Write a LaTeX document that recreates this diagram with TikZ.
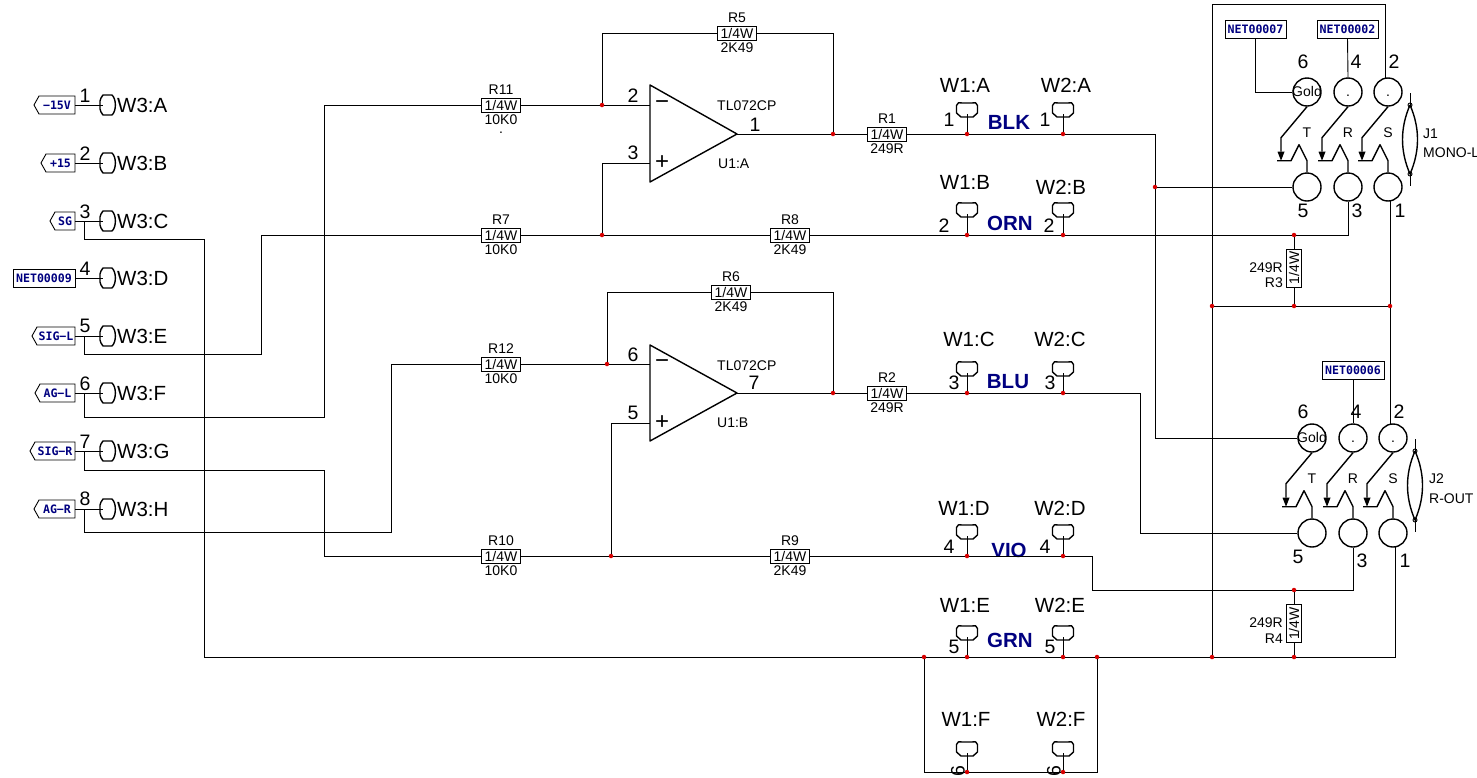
\documentclass[tikz,border=0pt]{standalone}
\usepackage{fontspec}
\setmainfont{Liberation Sans}
\newfontfamily\netfont{DejaVu Sans Mono}[BoldFont={DejaVu Sans Mono Bold}]
\definecolor{navy}{RGB}{0,0,128}
\definecolor{junc}{RGB}{215,0,0}
\tikzset{
  wire/.style={line width=0.9pt,black},
  heavy/.style={line width=1.4pt,black,line join=round},
  res/.style={draw,line width=0.9pt,fill=white,rectangle,minimum width=39pt,minimum height=14pt,inner sep=0pt,font=\fontsize{14}{14}\selectfont},
  vres/.style={draw,line width=0.9pt,fill=white,rectangle,minimum width=38pt,minimum height=15pt,inner sep=0pt,rotate=90,font=\fontsize{14}{14}\selectfont},
  small/.style={inner sep=0pt,font=\fontsize{14}{14}\selectfont},
  big/.style={inner sep=0pt,font=\fontsize{20.5}{20.5}\selectfont},
  pinno/.style={inner sep=0pt,font=\fontsize{19.5}{19.5}\selectfont},
  colr/.style={inner sep=0pt,text=navy,font=\fontsize{20.5}{20.5}\selectfont\bfseries},
  net/.style={draw,line width=0.9pt,rectangle,inner sep=0pt,minimum height=18pt,text=navy,font=\fontsize{11.6}{12}\netfont\bfseries},
  tagt/.style={inner sep=0pt,text=navy,font=\fontsize{11.6}{12}\netfont\bfseries},
  jn/.style={circle,fill=junc,minimum size=4.5pt,inner sep=0pt},
  hole/.style={circle,draw,line width=1.4pt,minimum size=28pt,inner sep=0pt,font=\fontsize{14}{14}\selectfont},
  sgn/.style={inner sep=0pt,font=\fontsize{24}{24}\selectfont},
}
% horizontal mating connector, with named wire point
\newcommand{\cnh}[5]{% name x y label pin
  \coordinate (#1) at (#2+3,#3);
  \draw[heavy] (#2+3,#3-10) -- (#2+1,#3-7) -- (#2,#3-4) -- (#2,#3+4) -- (#2+1,#3+7) -- (#2+3,#3+10) -- (#2+12,#3+10) .. controls (#2+16.5,#3+6) and (#2+16.5,#3-6) .. (#2+12,#3-10) -- cycle;
  \node[big,anchor=west] (#1t) at (#2+17,#3) {#4};
}
% vertical mating connector: name x top label-x label-y label
\newcommand{\cnv}[6]{%
  \coordinate (#1) at (#2,#3+11);
  \draw[heavy] (#2-10.5,#3+2.5) .. controls (#2-9,#3-0.5) .. (#2-5,#3) -- (#2+5,#3) .. controls (#2+9,#3-0.5) .. (#2+10.5,#3+2.5) -- (#2+10.5,#3+10) -- (#2+6,#3+14) -- (#2-6,#3+14) -- (#2-10.5,#3+10) -- cycle;
  \node[big] (#1t) at (#4,#5) {#6};
}
% tag pointing left: name left-x y text
\newcommand{\tagn}[4]{%
  \coordinate (#1) at (75,#3);
  \draw[line width=0.9pt] (75,#3-9) -- (#2+5,#3-9) -- (#2,#3) -- (#2+5,#3+9) -- (75,#3+9) -- cycle;
  \node[tagt] (#1t) at ({(75+#2+5)/2},#3) {#4};
}
\newcommand{\resh}[6]{% name x y top bottom value
  \node[res] (#1) at (#2,#3) {1/4W};
  \node[small] (#1a) at (#2,#3-15) {#4};
  \node[small] (#1b) at (#2,#3+15) {#5};
}
% switching jack contact set
\newcommand{\contact}[2]{%
  \draw[heavy] (#1p#2t.south) -- ++(-26,31) -- ++(0,14);
  \fill ($(#1p#2t.south)+(-29.5,45)$) -- ++(7,0) -- ++(-3.5,9) -- cycle;
  \draw[heavy] ($(#1p#2t.south)+(-30,54)$) -- ++(14,0) -- ++(8,-16) -- ++(8,16) -- (#1p#2b.north);
}
\newcommand{\jack}[3]{% prefix dx dy
  \begin{scope}[shift={(#2,#3)}]
  \node[hole] (#1p1t) at (1307,92) {\vphantom{G}};
  \node[hole] (#1p2t) at (1348,92) {\vphantom{G}.};
  \node[hole] (#1p3t) at (1388,92) {\vphantom{G}.};
  \node[hole] (#1p1b) at (1307,187) {};
  \node[hole] (#1p2b) at (1348,187) {};
  \node[hole] (#1p3b) at (1388,187) {};
  \contact{#1}{1}\contact{#1}{2}\contact{#1}{3}
  \node[small] (#1T) at (1307,133) {T};
  \node[small] (#1R) at (1348,133) {R};
  \node[small] (#1S) at (1388,133) {S};
  \draw[wire] (1410,93) -- (1410,105) (1410,174) -- (1410,186);
  \draw[heavy] (1410,105) .. controls (1400,128) and (1400,151) .. (1410,174) .. controls (1420,151) and (1420,128) .. (1410,105);
  \draw[wire] (1410,105) circle (2) (1410,174) circle (2);
  \end{scope}
}
\usetikzlibrary{calc}
\begin{document}
\begin{tikzpicture}[x=1pt,y=-1pt]
\useasboundingbox (0,0) rectangle (1477,777);
\fill[white] (0,0) rectangle (1477,777);

% ---------- junctions
\foreach \n/\a/\b in {a/602/105,b/833/134,c/967/134,d/1063/134,e/1155/187,f/602/235,g/967/235,h/1063/235,i/1294/235,j/1212/306,k/1294/306,l/1390/306,m/607/364,n/833/393,o/967/393,p/1063/393,q/611/556,r/967/556,s/1063/556,t/1294/590,u/924/657,v/967/657,w/1063/657,x/1097/657,y/1212/657,z/1294/657,aa/967/772,ab/1063/772}
  \node[jn] (J\n) at (\a,\b) {};

% ---------- left connector W3
\cnh{wa}{100}{105}{W3:A}{}
\cnh{wb}{100}{163}{W3:B}{}
\cnh{wc}{100}{221}{W3:C}{}
\cnh{wd}{100}{278}{W3:D}{}
\cnh{we}{100}{336}{W3:E}{}
\cnh{wf}{100}{393}{W3:F}{}
\cnh{wg}{100}{451}{W3:G}{}
\cnh{wh}{100}{509}{W3:H}{}
\tagn{ta}{34}{105}{−15V}
\tagn{tb}{41}{163}{+15}
\tagn{tc}{50}{221}{SG}
\node[net,minimum width=62pt] (td) at (44,278) {NET00009};
\tagn{te}{32}{336}{SIG−L}
\tagn{tf}{35}{393}{AG−L}
\tagn{tg}{30}{451}{SIG−R}
\tagn{th}{34}{509}{AG−R}
\foreach \t/\w/\l in {ta/wa/1,tb/wb/2,tc/wc/3,te/we/5,tf/wf/6,tg/wg/7,th/wh/8}
  \draw[wire] (\t) -- (\w);
\draw[wire] (td.east) -- (wd);
\foreach \l/\yy in {1/96,2/154,3/212,4/269,5/326,6/384,7/442,8/499}
  \node[pinno] (lp\l) at (85,\yy) {\l};

% ---------- resistors
\resh{R11}{501}{105}{R11}{10K0}{}
\resh{R7}{501}{235}{R7}{10K0}{}
\resh{R12}{501}{364}{R12}{10K0}{}
\resh{R10}{501}{556}{R10}{10K0}{}
\resh{R5}{737}{33}{R5}{2K49}{}
\resh{R1}{887}{134}{R1}{249R}{}
\resh{R8}{790}{235}{R8}{2K49}{}
\resh{R6}{731}{292}{R6}{2K49}{}
\resh{R2}{887}{393}{R2}{249R}{}
\resh{R9}{790}{556}{R9}{2K49}{}
\node[small] (dotmark) at (501,133) {.};

% ---------- op amps
\draw[heavy] (650,85) coordinate (Ua1) -- (737,134) coordinate (Uao) -- (650,182) -- cycle;
\draw[heavy] (650,345) -- (737,393) coordinate (Ubo) -- (650,441) -- cycle;
\coordinate (Uam) at (650,105); \coordinate (Uap) at (650,163);
\coordinate (Ubm) at (650,364); \coordinate (Ubp) at (650,423);
\node[sgn] (sa1) at (662,105) {−};
\node[sgn] (sa2) at (662,163) {+};
\node[sgn] (sb1) at (662,364) {−};
\node[sgn] (sb2) at (662,423) {+};
\node[small,anchor=west] (tla) at (717,106) {TL072CP};
\node[small,anchor=west] (ula) at (718,164) {U1:A};
\node[small,anchor=west] (tlb) at (717,366) {TL072CP};
\node[small,anchor=west] (ulb) at (717,423) {U1:B};
\node[pinno] (n2) at (633,96) {2};
\node[pinno] (n3) at (633,153) {3};
\node[pinno] (n1) at (755,125) {1};
\node[pinno] (n6) at (633,355) {6};
\node[pinno] (n5) at (633,413) {5};
\node[pinno] (n7) at (754,383) {7};

% ---------- W1 / W2 connectors
\cnv{a1}{967}{103}{965}{85}{W1:A}
\cnv{a2}{1063}{103}{1066}{85}{W2:A}
\cnv{b1}{967}{203}{965}{182}{W1:B}
\cnv{b2}{1063}{203}{1061}{187}{W2:B}
\cnv{c1}{967}{362}{969}{339}{W1:C}
\cnv{c2}{1063}{362}{1060}{339}{W2:C}
\cnv{d1}{967}{525}{964}{508}{W1:D}
\cnv{d2}{1063}{525}{1060}{508}{W2:D}
\cnv{e1}{967}{626}{965}{605}{W1:E}
\cnv{e2}{1063}{626}{1060}{605}{W2:E}
\cnv{f1}{967}{742}{966}{719}{W1:F}
\cnv{f2}{1063}{742}{1061}{719}{W2:F}
\foreach \a/\b in {a1/Jc,a2/Jd,b1/Jg,b2/Jh,c1/Jo,c2/Jp,d1/Jr,d2/Js,e1/Jv,e2/Jw,f1/Jaa,f2/Jab}
  \draw[wire] (\a) -- (\b);
\node[pinno] (q1) at (949,120) {1};
\node[pinno] (q2) at (1045,120) {1};
\node[pinno] (q3) at (944,226) {2};
\node[pinno] (q4) at (1049,226) {2};
\node[pinno] (q5) at (954,383) {3};
\node[pinno] (q6) at (1050,383) {3};
\node[pinno] (q7) at (949,547) {4};
\node[pinno] (q8) at (1045,547) {4};
\node[pinno] (q9) at (954,647) {5};
\node[pinno] (q10) at (1050,647) {5};
\node[pinno,rotate=90] (q11) at (958,771) {6};
\node[pinno,rotate=90] (q12) at (1054,771) {6};
\node[colr] (blk) at (1009,122) {BLK};
\node[colr] (orn) at (1010,223) {ORN};
\node[colr] (blu) at (1008,382) {BLU};
\node[colr] (vio) at (1009,550) {VIO};
\node[colr] (grn) at (1010,640) {GRN};

% ---------- jacks
\jack{JA}{0}{0}
\jack{JB}{5}{346}
\node[small] (JAgold) at (1307,91) {Gold};
\node[small] (JBgold) at (1312,437) {Gold};
\node[pinno] (ja6) at (1303,62) {6};
\node[pinno] (ja4) at (1356,62) {4};
\node[pinno] (ja2) at (1394,62) {2};
\node[pinno] (ja5) at (1303,211) {5};
\node[pinno] (ja3) at (1357,211) {3};
\node[pinno] (ja1) at (1400,211) {1};
\node[pinno] (jb6) at (1303,412) {6};
\node[pinno] (jb4) at (1356,412) {4};
\node[pinno] (jb2) at (1399,412) {2};
\node[pinno] (jb5) at (1298,557) {5};
\node[pinno] (jb3) at (1362,561) {3};
\node[pinno] (jb1) at (1405,561) {1};
\node[small,anchor=west] (j1l) at (1423,134) {J1};
\node[small,anchor=west] (j1m) at (1423,153) {MONO-L};
\node[small,anchor=west] (j2l) at (1429,479) {J2};
\node[small,anchor=west] (j2m) at (1429,499) {R-OUT};
\node[net,minimum width=61pt] (N7) at (1255.5,29) {NET00007};
\node[net,minimum width=61pt] (N2) at (1347.5,29) {NET00002};
\node[net,minimum width=62pt] (N6) at (1353,370) {NET00006};

% ---------- R3 R4
\node[vres] (R3) at (1294,268) {1/4W};
\node[vres] (R4) at (1294,623.5) {1/4W};
\node[small,anchor=east] (r3a) at (1283,268) {249R};
\node[small,anchor=east] (r3b) at (1283,283) {R3};
\node[small,anchor=east] (r4a) at (1283,623) {249R};
\node[small,anchor=east] (r4b) at (1283,639) {R4};

% ---------- wires
\coordinate (c5a) at (84,336); \coordinate (c5b) at (261,354);
\coordinate (c6a) at (84,393); \coordinate (c6b) at (324,417);
\coordinate (c7a) at (84,451); \coordinate (c7b) at (324,470);
\coordinate (c8a) at (84,509); \coordinate (c8b) at (391,532.5);
\coordinate (c3a) at (84,221); \coordinate (c3b) at (204,239);
\draw[wire] (c5a) |- (c5b) |- (R7.west);
\draw[wire] (c6a) |- (c6b) |- (R11.west);
\draw[wire] (c7a) |- (c7b) |- (R10.west);
\draw[wire] (c8a) |- (c8b) |- (R12.west);
\draw[wire] (c3a) |- (c3b) |- (Ju);
\draw[wire] (R11.east) -- (Ja) -- (Uam);
\draw[wire] (Ja) |- (R5.west);
\draw[wire] (R5.east) -| (Jb);
\draw[wire] (Uao) -- (Jb) -- (R1.west);
\draw[wire] (R1.east) -- (Jc) -- (Jd);
\draw[wire] (Jd) -| (Je);
\draw[wire] (Je) -- (JAp1b.west);
\draw[wire] (Je) |- (JBp1t.west);
\draw[wire] (R7.east) -- (Jf) -- (R8.west);
\draw[wire] (Jf) |- (Uap);
\draw[wire] (R8.east) -- (Jg) -- (Jh) -- (Ji);
\draw[wire] (Ji) -| (JAp2b.south);
\draw[wire] (Ji) -- (R3.east);
\draw[wire] (R3.west) -- (Jk);
\draw[wire] (Jj) -- (Jk) -- (Jl);
\draw[wire] (R12.east) -- (Jm) -- (Ubm);
\draw[wire] (Jm) |- (R6.west);
\draw[wire] (R6.east) -| (Jn);
\draw[wire] (Ubo) -- (Jn) -- (R2.west);
\draw[wire] (R2.east) -- (Jo) -- (Jp);
\coordinate (blubend) at (1140,393);
\draw[wire] (Jp) -- (blubend) |- (JBp1b.west);
\draw[wire] (R10.east) -- (Jq) -- (R9.west);
\draw[wire] (Jq) |- (Ubp);
\draw[wire] (R9.east) -- (Jr) -- (Js);
\coordinate (viobend) at (1092,556);
\draw[wire] (Js) -- (viobend) |- (Jt);
\draw[wire] (Jt) -| (JBp2b.south);
\draw[wire] (Jt) -- (R4.east);
\draw[wire] (R4.west) -- (Jz);
\draw[wire] (Ju) -- (Jv) -- (Jw) -- (Jx) -- (Jy) -- (Jz);
\coordinate (gnd) at (1395,547);
\draw[wire] (Jz) -| (gnd);
\draw[wire] (Ju) |- (Jaa);
\draw[wire] (Jaa) -- (Jab);
\draw[wire] (Jab) -| (Jx);
\draw[wire] (Jy) -- (Jj);
\coordinate (tr1) at (1212,4); \coordinate (tr2) at (1385,4); \coordinate (tr3) at (1385,78);
\draw[wire] (Jj) -- (tr1) -- (tr2) -- (tr3);
\coordinate (l1) at (1390,201); \coordinate (l2) at (1390,424);
\draw[wire] (l1) -- (Jl) -- (l2);
\draw[wire] (N7.south) |- (JAp1t.west);
\draw[wire] (N2.south) -- (JAp2t.north);
\draw[wire] (N6.south) -- (JBp2t.north);
\end{tikzpicture}
\end{document}
